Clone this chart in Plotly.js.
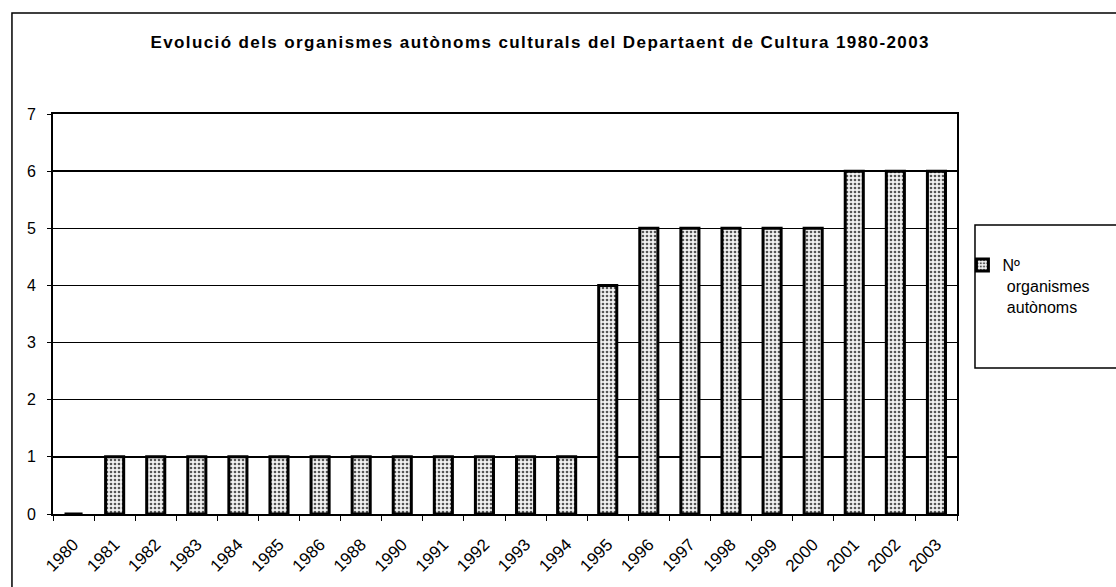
<!DOCTYPE html>
<html>
<head>
<meta charset="utf-8">
<script src="https://cdn.plot.ly/plotly-3.0.1.min.js"></script>
<style>html,body{margin:0;padding:0;background:#fff;}#chart{width:1116px;height:587px;}
#chart .gtitle{letter-spacing:1.4px;}</style>
</head>
<body>
<div id="chart"></div>
<script>
const years = ["1980","1981","1982","1983","1984","1985","1986","1988","1990","1991","1992","1993","1994","1995","1996","1997","1998","1999","2000","2001","2002","2003"];
const organismes = [0,1,1,1,1,1,1,1,1,1,1,1,1,4,5,5,5,5,5,6,6,6];
const seriesName = "Nº<br>&nbsp;organismes<br>&nbsp;autònoms";
const chartTitle = "Evolució dels organismes autònoms culturals del Departaent de Cultura 1980-2003";

const trace = {
  type: "bar",
  x: years,
  y: organismes,
  name: seriesName,
  showlegend: true,
  cliponaxis: true,
  marker: {
    color: "#e6e6e6",
    line: {color: "#000", width: 3},
    pattern: {shape: ".", fgcolor: "#555", bgcolor: "#f2f2f2", size: 4, solidity: 0.35}
  },
  hoverinfo: "x+y"
};

const layout = {
  width: 1116, height: 587,
  margin: {l: 53, r: 159, t: 114, b: 73},
  paper_bgcolor: "#fff", plot_bgcolor: "#fff",
  font: {family: "Liberation Sans, Arial, sans-serif", color: "#000"},
  title: {text: "<b>" + chartTitle + "</b>", x: 0.484, xref: "container", xanchor: "center",
          y: 1 - 42/587, yref: "container", yanchor: "middle",
          font: {size: 17, family: "Liberation Sans, Arial, sans-serif", color: "#000"}},
  bargap: 0.56,
  xaxis: {type: "category", tickangle: -45, tickson: "boundaries", ticks: "outside", ticklen: 5,
          tickcolor: "#000", showline: true, linecolor: "#000", linewidth: 2, mirror: true,
          showgrid: false, tickfont: {size: 17}, ticklabelstandoff: 12, automargin: false},
  yaxis: {range: [0, 7], dtick: 1, ticks: "outside", ticklen: 4, tickcolor: "#000",
          showline: true, linecolor: "#000", linewidth: 2, mirror: true,
          showgrid: true, gridcolor: "#000", gridwidth: 1.5, zeroline: false,
          tickfont: {size: 16}, ticklabelstandoff: 8, automargin: false},
  legend: {x: 1.006, xanchor: "left", y: 0.665, yanchor: "top", valign: "top",
           bgcolor: "rgba(0,0,0,0)", borderwidth: 0, font: {size: 16}, itemwidth: 30},
  shapes: [
    {type: "rect", xref: "paper", yref: "paper", x0: -0.0454, x1: 1.3, y0: -0.3, y1: 1.2525,
     line: {color: "#000", width: 1.5}, fillcolor: "rgba(0,0,0,0)", layer: "below"},
    {type: "rect", xref: "paper", yref: "paper", x0: 1.0199, x1: 1.3, y0: 0.365, y1: 0.7225,
     line: {color: "#000", width: 1.5}, fillcolor: "rgba(0,0,0,0)"}
  ]
};

Plotly.newPlot("chart", [trace], layout, {displayModeBar: false, staticPlot: true});
</script>
</body>
</html>
